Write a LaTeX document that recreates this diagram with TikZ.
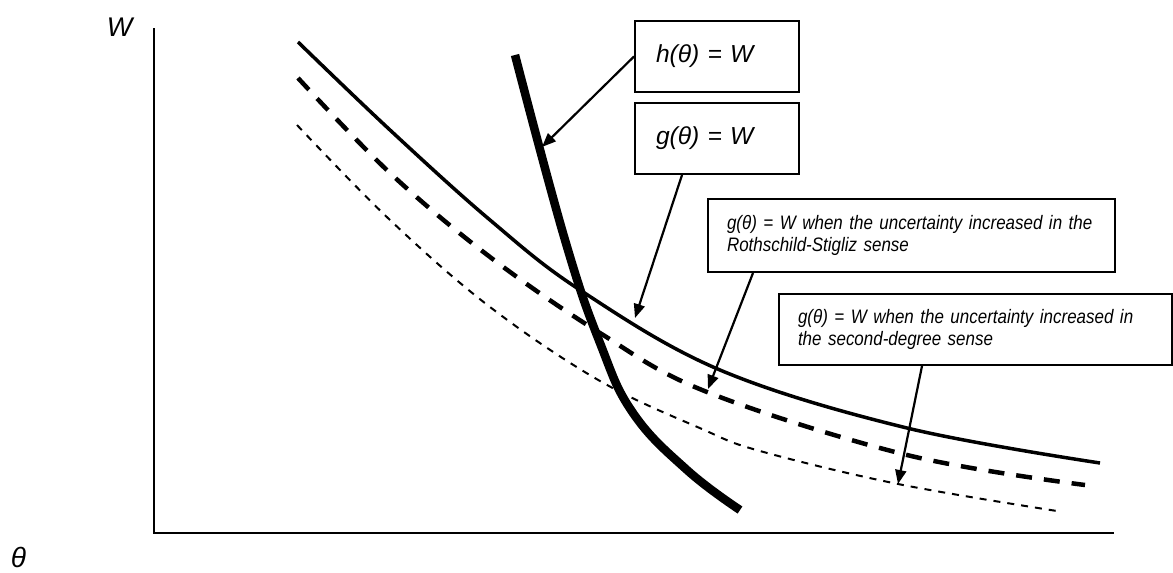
\documentclass[tikz,border=0pt]{standalone}
\usepackage{fontspec}
\setmainfont{Liberation Sans}
\newfontfamily\narrowfont[FakeStretch=0.87]{Liberation Sans}
\usetikzlibrary{arrows.meta}
\begin{document}
\begin{tikzpicture}[x=1pt,y=-1pt,
  bigbox/.style={draw,line width=2pt,anchor=north west,inner xsep=21pt,inner ysep=0pt,
    minimum height=71pt,text width=122pt,align=left,
    font=\fontsize{24.6}{28}\selectfont\itshape},
  smallbox/.style={draw,line width=2pt,anchor=north west,inner xsep=19pt,inner ysep=0pt,
    align=left,font=\narrowfont\fontsize{19.5}{21.5}\selectfont\itshape},
  pointer/.style={line width=2.2pt,-{Triangle[length=14pt,width=11pt]}},
  axis/.style={line width=2pt},
  gcurve/.style={line width=3.5pt},
  rscurve/.style={line width=4.5pt,dash pattern=on 16pt off 12pt},
  sdcurve/.style={line width=2pt,dash pattern=on 7pt off 7pt},
  hcurve/.style={line width=8.5pt},
  axlabel/.style={inner sep=0pt,font=\fontsize{27}{30}\selectfont\itshape}]
\useasboundingbox (0,0) rectangle (1173,573);
% axes
\coordinate (O) at (154,533);
\coordinate (Ytop) at (154,28);
\coordinate (Xend) at (1114,533);
\draw[axis] (Ytop) -- (O) -- (Xend);
\node[axlabel] (wlab) at (119.5,27) {W};
\node[axlabel,font=\fontsize{28}{32}\selectfont\itshape] (thlab) at (18.5,557) {θ};
% curves
\draw[gcurve] plot[smooth,tension=0.6] coordinates {(298,42) (390,130) (490,220) (580,290) (720,370) (907,428) (1100,463)};
\draw[rscurve] plot[smooth,tension=0.6] coordinates {(298,78) (390,173) (490,257) (600,333) (707,392) (907,455) (1085,485)};
\draw[sdcurve] plot[smooth,tension=0.6] coordinates {(297,125) (390,220) (490,307) (600,381) (702,429) (760,451) (898,484) (1057,511)};
\draw[hcurve] plot[smooth,tension=0.7] coordinates {(515,55) (565,240) (600,343) (633,413) (687,470) (740,510)};
% boxes
\node[bigbox] (hbox) at (634,20) {h(θ) = W};
\node[bigbox] (gbox) at (634,102) {g(θ) = W};
\node[smallbox,text width=369pt,minimum height=73pt] (rsbox) at (707,198)
  {\mbox{g(θ) = W when the uncertainty increased in the}\\\mbox{Rothschild-Stigliz sense}};
\node[smallbox,text width=355pt,minimum height=71pt] (sdbox) at (778,293)
  {\mbox{g(θ) = W when the uncertainty increased in}\\\mbox{the second-degree sense}};
% pointers
\coordinate (hT) at (542,147);
\coordinate (gT) at (635,318);
\coordinate (rT) at (708,389);
\coordinate (sT) at (898,484);
\draw[pointer] (hbox.west) -- (hT);
\draw[pointer] ([xshift=48pt]gbox.south west) -- (gT);
\draw[pointer] ([xshift=46pt]rsbox.south west) -- (rT);
\draw[pointer] ([xshift=144pt]sdbox.south west) -- (sT);
\end{tikzpicture}
\end{document}
